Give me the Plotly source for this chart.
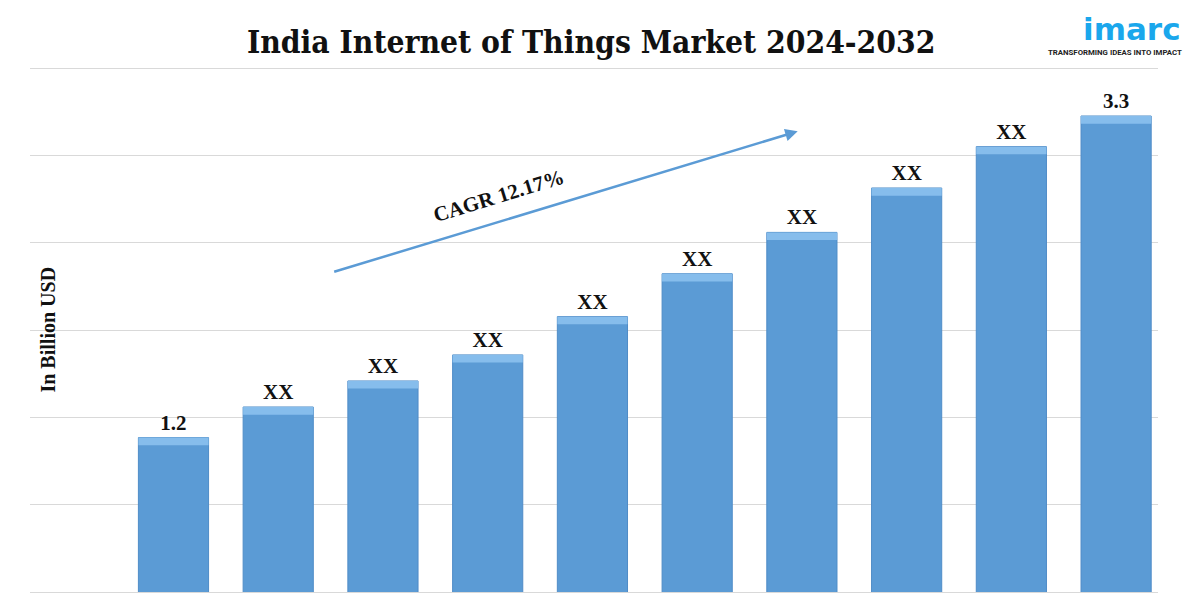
import plotly.graph_objects as go

years = [2023, 2024, 2025, 2026, 2027, 2028, 2029, 2030, 2031, 2032]
values = [1.2, 1.40, 1.57, 1.74, 1.99, 2.27, 2.54, 2.83, 3.10, 3.3]
labels = ["1.2", "XX", "XX", "XX", "XX", "XX", "XX", "XX", "XX", "3.3"]

title_text = "India Internet of Things Market 2024-2032"
y_title = "In Billion USD"
cagr_text = "CAGR 12.17%"

bar_color = "#5B9BD5"
serif = "Liberation Serif"
title_font = "DejaVu Serif Condensed, Liberation Serif"

fig = go.Figure()

fig.add_trace(go.Bar(
    x=years, y=values, width=0.67,
    marker=dict(color=bar_color, line=dict(color="#4F8CC7", width=1)),
    text=labels, textposition="outside", cliponaxis=False,
    textfont=dict(family=serif, size=21, color="#111111", weight="bold"),
    hoverinfo="skip",
))
# lighter bevel highlight at the top of each bar
fig.add_trace(go.Bar(
    x=years, y=[0.05] * len(values), base=[v - 0.05 for v in values], width=0.67,
    marker=dict(color="#86BDEC", line=dict(width=0)),
    hoverinfo="skip",
))

fig.update_layout(
    width=1200, height=600,
    margin=dict(l=22, r=50, t=59, b=16),
    paper_bgcolor="white", plot_bgcolor="white",
    barmode="overlay", showlegend=False,
    title=dict(text=title_text, xref="container", x=0.486, xanchor="center",
               yref="container", y=0.9433, yanchor="middle",
               font=dict(family=title_font, size=31.5, color="#111111", weight="bold")),
    xaxis=dict(range=[2021.63, 2032.40], showticklabels=False, showgrid=False,
               zeroline=False, showline=True, linecolor="#D9D9D9", linewidth=1, ticks=""),
    yaxis=dict(range=[0.192, 3.62], tick0=0.192, dtick=0.570, showticklabels=False,
               showgrid=True, gridcolor="#D9D9D9", gridwidth=1, zeroline=False, ticks=""),
)

fig.add_annotation(
    x=2028.96, y=3.20, ax=2024.52, ay=2.28, xref="x", yref="y", axref="x", ayref="y",
    showarrow=True, arrowhead=2, arrowsize=1, arrowwidth=2.5, arrowcolor=bar_color, text="",
)
fig.add_annotation(
    x=2026.1, y=2.78, xref="x", yref="y", text=cagr_text, showarrow=False, textangle=-17,
    font=dict(family=serif, size=21, color="#111111", weight="bold"),
)
fig.add_annotation(
    x=0.0151, y=0.5, xref="paper", yref="paper", text=y_title, showarrow=False,
    textangle=-90, xanchor="center", yanchor="middle",
    font=dict(family=serif, size=20, color="#111111", weight="bold"),
)

fig.add_annotation(
    x=1.0, y=1.0, xref="paper", yref="paper", xshift=24, yshift=38, text="imarc",
    showarrow=False, xanchor="right", yanchor="middle", borderpad=0,
    font=dict(family="DejaVu Sans", size=31, color="#1AA7EC", weight="bold"),
)
fig.add_annotation(
    x=1.0, y=1.0, xref="paper", yref="paper", xshift=25, yshift=15,
    text="TRANSFORMING IDEAS INTO IMPACT",
    showarrow=False, xanchor="right", yanchor="middle", borderpad=0,
    font=dict(family="Roboto", size=7.8, color="#222222", weight="bold"),
)

fig.write_html("out.html")
